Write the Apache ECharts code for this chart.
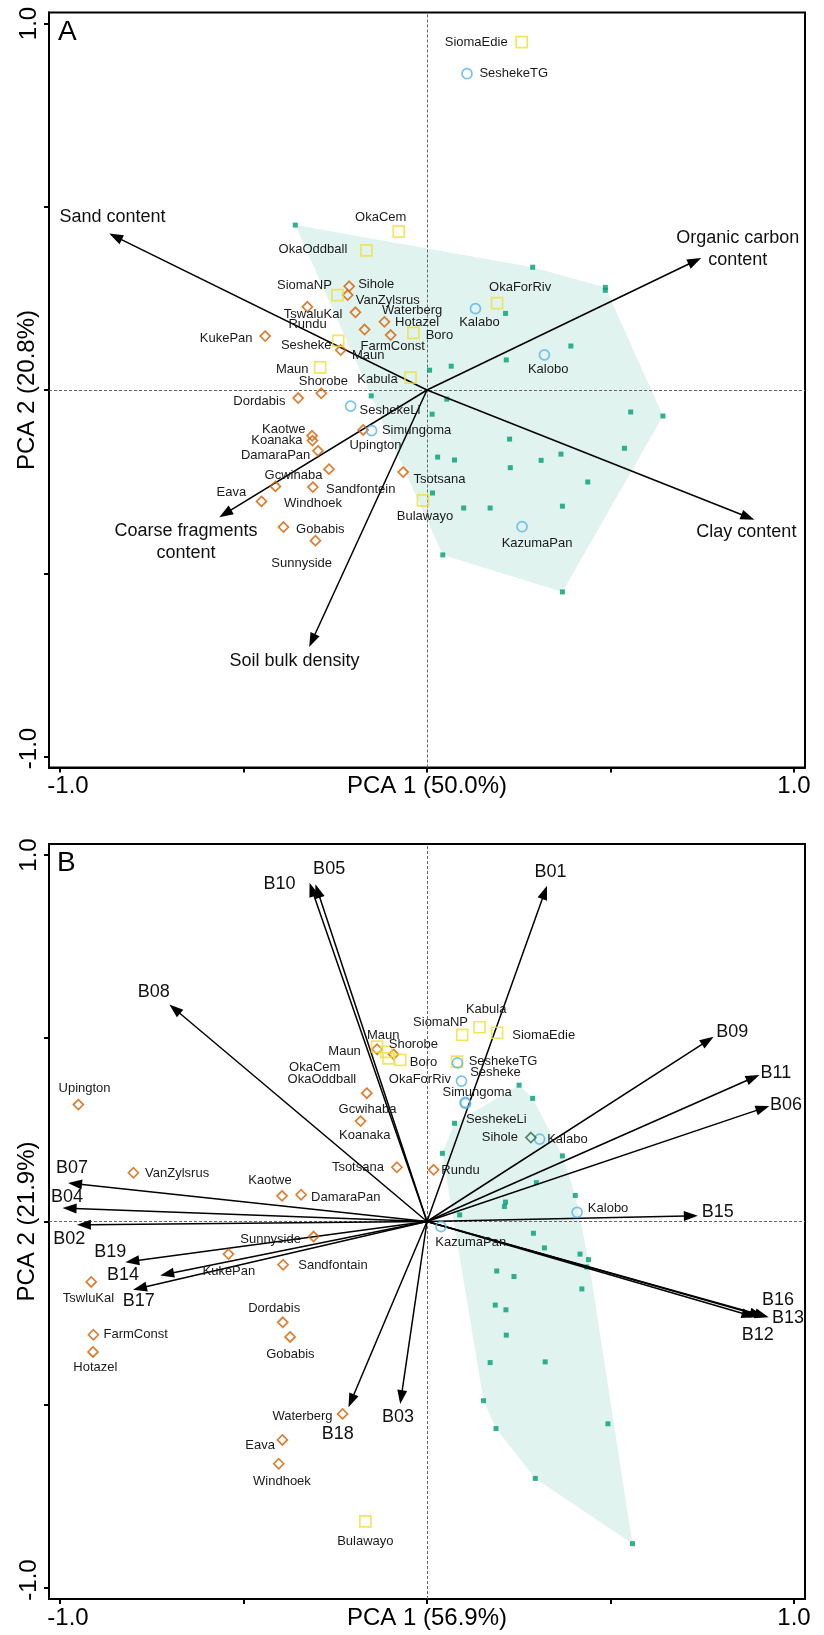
<!DOCTYPE html>
<html>
<head>
<meta charset="utf-8">
<script src="https://cdn.jsdelivr.net/npm/echarts@6/dist/echarts.min.js"></script>
<style>
html,body{margin:0;padding:0;background:#fff;}
#chart{width:824px;height:1635px;}
</style>
</head>
<body>
<div id="chart"></div>
<script>
// ---------------- DATA ----------------
const panelLetters = ['A', 'B'];
const aAxisNames = ['PCA 1 (50.0%)', 'PCA 2 (20.8%)'];
const bAxisNames = ['PCA 1 (56.9%)', 'PCA 2 (21.9%)'];
const tickValues = [-1, -0.5, 0, 0.5, 1];
const tickLabelValues = [-1, 1];
const tickLabelText = ['-1.0', '1.0'];

// Panel A: environmental vectors [label, PCA1, PCA2]
const aArrows = [
  ['Sand content', -0.866, 0.427],
  ['Organic carbon\ncontent', 0.747, 0.360],
  ['Clay content', 0.892, -0.354],
  ['Coarse fragments\ncontent', -0.566, -0.347],
  ['Soil bulk density', -0.321, -0.701]
];
const aOrange = [
  ['Sihole', -0.212, 0.283], ['VanZylsrus', -0.216, 0.259], ['TswaluKal', -0.326, 0.227],
  ['Waterberg', -0.195, 0.212], ['Rundu', -0.170, 0.165], ['Hotazel', -0.116, 0.186],
  ['FarmConst', -0.099, 0.150], ['Maun', -0.235, 0.109], ['KukePan', -0.441, 0.147],
  ['Shorobe', -0.288, -0.009], ['Dordabis', -0.351, -0.022], ['Kaotwe', -0.313, -0.125],
  ['Koanaka', -0.312, -0.138], ['DamaraPan', -0.297, -0.166], ['Upington', -0.174, -0.109],
  ['Gcwihaba', -0.267, -0.216], ['Sandfontein', -0.311, -0.265], ['Eava', -0.413, -0.263],
  ['Windhoek', -0.451, -0.304], ['Gobabis', -0.391, -0.374], ['Sunnyside', -0.304, -0.411],
  ['Tsotsana', -0.065, -0.224]
];
const aYellow = [
  ['SiomaEdie', 0.258, 0.949], ['OkaCem', -0.077, 0.432], ['OkaOddball', -0.165, 0.381],
  ['SiomaNP', -0.244, 0.259], ['OkaForRiv', 0.191, 0.237], ['Boro', -0.037, 0.156],
  ['Sesheke', -0.242, 0.134], ['Maun', -0.291, 0.062], ['Kabula', -0.045, 0.034],
  ['Bulawayo', -0.011, -0.301]
];
const aBlue = [
  ['SeshekeTG', 0.109, 0.863], ['Kalabo', 0.132, 0.222], ['Kalobo', 0.320, 0.096],
  ['SeshekeLi', -0.208, -0.044], ['Simungoma', -0.151, -0.111], ['KazumaPan', 0.259, -0.373]
];
const aGreen = [
  [-0.359, 0.450], [-0.152, -0.016], [0.288, 0.335], [0.486, 0.280], [0.486, 0.272],
  [0.214, 0.209], [0.392, 0.120], [0.216, 0.082], [0.066, 0.065], [0.007, 0.054],
  [0.054, -0.025], [0.014, -0.066], [0.555, -0.060], [0.643, -0.071], [0.225, -0.134],
  [0.538, -0.159], [0.029, -0.183], [0.075, -0.191], [0.365, -0.175], [0.311, -0.192],
  [0.227, -0.212], [0.438, -0.251], [0.015, -0.281], [0.100, -0.322], [0.172, -0.322],
  [0.369, -0.317], [0.043, -0.450], [0.369, -0.551]
];

// Panel B
const bArrows = [
  ['B01', 0.327, 0.916], ['B02', -0.954, -0.009], ['B03', -0.073, -0.498], ['B04', -0.993, 0.037],
  ['B05', -0.304, 0.920], ['B06', 0.933, 0.315], ['B07', -0.978, 0.105], ['B08', -0.702, 0.592],
  ['B09', 0.781, 0.504], ['B10', -0.320, 0.924], ['B11', 0.906, 0.400], ['B12', 0.895, -0.261],
  ['B13', 0.931, -0.261], ['B14', -0.727, -0.147], ['B15', 0.738, 0.016], ['B16', 0.917, -0.259],
  ['B17', -0.801, -0.186], ['B18', -0.214, -0.507], ['B19', -0.822, -0.111]
];
const bOrange = [
  ['Upington', -0.950, 0.319], ['VanZylsrus', -0.800, 0.133], ['Kaotwe', -0.395, 0.070],
  ['DamaraPan', -0.343, 0.073], ['Tsotsana', -0.082, 0.148], ['Koanaka', -0.181, 0.274],
  ['Gcwihaba', -0.164, 0.350], ['Maun', -0.136, 0.470], ['Shorobe', -0.091, 0.456],
  ['Rundu', 0.018, 0.141], ['Sunnyside', -0.309, -0.041], ['KukePan', -0.541, -0.089],
  ['Sandfontain', -0.392, -0.118], ['TswluKal', -0.915, -0.165], ['FarmConst', -0.909, -0.309],
  ['Hotazel', -0.910, -0.356], ['Dordabis', -0.393, -0.275], ['Gobabis', -0.373, -0.315],
  ['Waterberg', -0.230, -0.525], ['Eava', -0.394, -0.596], ['Windhoek', -0.404, -0.661]
];
const bYellow = [
  ['Maun', -0.136, 0.477], ['OkaCem', -0.111, 0.463], ['OkaOddball', -0.105, 0.445],
  ['Boro', -0.073, 0.441], ['OkaForRiv', 0.082, 0.436], ['SiomaNP', 0.096, 0.509],
  ['Kabula', 0.143, 0.530], ['SiomaEdie', 0.191, 0.515], ['Bulawayo', -0.168, -0.818]
];
const bBlue = [
  ['SeshekeTG', 0.083, 0.433], ['Sesheke', 0.094, 0.383], ['Simungoma', 0.104, 0.325],
  ['SeshekeLi', 0.105, 0.322], ['Kalabo', 0.307, 0.225], ['Kalobo', 0.409, 0.025],
  ['KazumaPan', 0.038, -0.014]
];
const bDarkGreen = [['Sihole', 0.283, 0.229]];
const bGreen = [
  [0.251, 0.372], [0.288, 0.336], [0.075, 0.268], [0.369, 0.179], [0.042, 0.186],
  [0.298, 0.106], [0.404, 0.071], [0.214, 0.053], [0.211, 0.041], [0.089, 0.018],
  [0.290, -0.032], [0.320, -0.072], [0.417, -0.089], [0.440, -0.104], [0.435, -0.124],
  [0.190, -0.135], [0.237, -0.150], [0.422, -0.184], [0.186, -0.228], [0.215, -0.241],
  [0.216, -0.310], [0.172, -0.385], [0.322, -0.383], [0.154, -0.489], [0.188, -0.565],
  [0.493, -0.552], [0.295, -0.701], [0.560, -0.879]
];

// ---------------- LAYOUT (label offsets in px, not data) ----------------
const layout = {
  aArrows: [[3.3,-16],[36.7,-9.4],[-8,12.7],[-33.3,24.4],[-14.7,14.4]],
  aOrange: [[27,-2],[40,5],[5.7,7.7],[56.7,-1.6],[-57,-5],[32.7,0.7],[2,11],[27.5,5],[-39,2.3],[2,-11.7],[-38.8,3],[-28.4,-6],[-35.6,0.3],[-42.4,5],[12.3,15.7],[-35.5,6.3],[47.8,2.3],[-44,6],[51.5,2.3],[36.8,2.7],[-13.8,23],[36.3,7.7]],
  aYellow: [[-45.5,0],[-18,-14],[-53.5,-0.6],[-33,-10],[23,-16],[26,2.3],[-32,5],[-28,2],[-33,2],[2,15.7]],
  aBlue: [[46.7,0],[4,13.3],[3.7,14.7],[39.3,4.7],[45,0],[15,16.3]],
  bArrows: [[3.6,-14],[-7.7,14.3],[-2.3,13],[4.4,-11],[13.7,-15],[16.7,-1],[4,-15],[-15.7,-12.6],[18.7,-4.4],[-30,1.3],[16.4,-1.7],[2.3,17.7],[19.4,0.4],[-37.3,0],[20,-3.3],[14.4,-16],[5.6,11],[-10.6,26.3],[-15,-10.6]],
  bOrange: [[6.2,-16],[43.7,0.3],[-12,-15],[44.6,2.7],[-39,0.4],[4.2,14.3],[0.7,15.7],[6.1,-13.6],[19.7,-10],[26.9,1],[-43,2.6],[0.4,17.4],[49.8,1],[-2.7,16.7],[42.2,-0.7],[2.3,15.4],[-8.6,-13.7],[0.3,17],[-40.1,2.7],[-22.3,5],[3.2,17.4]],
  bYellow: [[-32.5,4.3],[-71.5,15.6],[-66.6,21],[23.3,2.7],[-37.2,17.3],[-21.7,-12.3],[6.7,-18],[46.6,3],[0,19.7]],
  bBlue: [[45.5,-1],[34,-8.3],[12,-9.6],[30.7,15.8],[27.7,0.3],[31,-3.7],[29.8,16]],
  bDarkGreen: [[-31,0]]
};

// ---------------- STYLE ----------------
const FONT = "'Liberation Sans', Arial, Helvetica, sans-serif";
const C_ORANGE = '#D55E00', C_YELLOW = '#EFE03A', C_BLUE = '#56B4E9', C_GREEN = '#009E73', C_DKGREEN = '#2E6B47';
const HULL_FILL = 'rgba(0,158,115,0.12)';
const AX_MIN = -1.03, AX_MAX = 1.03;

function tickFmt(v) {
  const s = tickLabelText[tickLabelValues.indexOf(Math.round(v * 100) / 100)] || '';
  return v < 0 ? '{n|' + s + '}' : s;
}

function xAxisCfg(gi, name) {
  return {
    gridIndex: gi, type: 'value', min: AX_MIN, max: AX_MAX, position: 'bottom',
    axisLine: { show: true, onZero: false, lineStyle: { color: '#000', width: 2 } },
    axisTick: { show: true, inside: false, length: 5, customValues: tickValues, lineStyle: { color: '#000', width: 2 } },
    axisLabel: { show: true, customValues: tickLabelValues, formatter: tickFmt, fontSize: 24, color: '#000', margin: 7, fontFamily: FONT,
      rich: { n: { fontSize: 24, color: '#000', padding: [0, 0, 0, 16], fontFamily: FONT } } },
    splitLine: { show: false },
    name: name, nameLocation: 'middle', nameGap: 7, nameMoveOverlap: false,
    nameTextStyle: { fontSize: 24, color: '#000', fontFamily: FONT, verticalAlign: 'top' }
  };
}
function yAxisCfg(gi, name) {
  return {
    gridIndex: gi, type: 'value', min: AX_MIN, max: AX_MAX, position: 'left',
    axisLine: { show: true, onZero: false, lineStyle: { color: '#000', width: 2 } },
    axisTick: { show: true, inside: false, length: 5, customValues: tickValues, lineStyle: { color: '#000', width: 2 } },
    axisLabel: { show: true, customValues: tickLabelValues, formatter: tickFmt, rotate: 90, fontSize: 24, color: '#000', margin: 8, fontFamily: FONT,
      rich: { n: { fontSize: 24, color: '#000', padding: [0, 0, 0, 16], fontFamily: FONT } } },
    splitLine: { show: false },
    name: name, nameLocation: 'middle', nameGap: 10, nameMoveOverlap: false,
    nameTextStyle: { fontSize: 24, color: '#000', fontFamily: FONT }
  };
}

function convexHull(pts) {
  const p = pts.slice().sort((a, b) => a[0] - b[0] || a[1] - b[1]);
  const cross = (o, a, b) => (a[0] - o[0]) * (b[1] - o[1]) - (a[1] - o[1]) * (b[0] - o[0]);
  const lower = [], upper = [];
  for (const q of p) { while (lower.length >= 2 && cross(lower[lower.length - 2], lower[lower.length - 1], q) <= 0) lower.pop(); lower.push(q); }
  for (let i = p.length - 1; i >= 0; i--) { const q = p[i]; while (upper.length >= 2 && cross(upper[upper.length - 2], upper[upper.length - 1], q) <= 0) upper.pop(); upper.push(q); }
  upper.pop(); lower.pop();
  return lower.concat(upper);
}

function hullSeries(gi, green) {
  return {
    type: 'custom', xAxisIndex: gi, yAxisIndex: gi, z: 1, silent: true, animation: false,
    data: green,
    renderItem: function (params, api) {
      if (params.dataIndex !== 0) return null;
      const px = green.map(d => api.coord(d));
      return { type: 'polygon', shape: { points: convexHull(px) }, style: { fill: HULL_FILL } };
    }
  };
}

function arrowSeries(gi, arrows, offs, fontSize) {
  return {
    type: 'custom', xAxisIndex: gi, yAxisIndex: gi, z: 4, silent: true, animation: false,
    data: arrows.map(a => ({ name: a[0], value: [a[1], a[2]] })),
    renderItem: function (params, api) {
      const i = params.dataIndex;
      const o = api.coord([0, 0]);
      const t = api.coord([api.value(0), api.value(1)]);
      const dx = t[0] - o[0], dy = t[1] - o[1];
      const L = Math.hypot(dx, dy), ux = dx / L, uy = dy / L;
      const hl = 14, hw = 5;
      const bx = t[0] - ux * hl, by = t[1] - uy * hl;
      const p1 = [bx - uy * hw, by + ux * hw], p2 = [bx + uy * hw, by - ux * hw];
      const off = offs[i];
      return {
        type: 'group', children: [
          { type: 'line', shape: { x1: o[0], y1: o[1], x2: bx + ux * 2, y2: by + uy * 2 }, style: { stroke: '#000', lineWidth: 1.5 } },
          { type: 'polygon', shape: { points: [t, p1, p2] }, style: { fill: '#000' } },
          { type: 'text', style: { text: arrows[i][0], x: t[0] + off[0], y: t[1] + off[1], fill: '#111', fontSize: fontSize,
              fontFamily: FONT, align: 'center', verticalAlign: 'middle', textAlign: 'center', textVerticalAlign: 'middle', lineHeight: 22 } }
        ]
      };
    }
  };
}

function pointSeries(gi, pts, symbol, size, color) {
  return {
    type: 'scatter', xAxisIndex: gi, yAxisIndex: gi, z: 5, silent: true, animation: false,
    symbol: symbol, symbolSize: size,
    itemStyle: { color: 'rgba(255,255,255,0)', borderColor: color, borderWidth: 1.7 },
    label: { show: false },
    data: pts.map(d => ({ name: d[0], value: [d[1], d[2]] }))
  };
}

function labelSeries(gi, pts, offs) {
  return {
    type: 'custom', xAxisIndex: gi, yAxisIndex: gi, z: 6, silent: true, animation: false,
    data: pts.map(d => ({ name: d[0], value: [d[1], d[2]] })),
    renderItem: function (params, api) {
      const i = params.dataIndex;
      const c = api.coord([api.value(0), api.value(1)]);
      return { type: 'text', style: { text: pts[i][0], x: c[0] + offs[i][0], y: c[1] + offs[i][1], fill: '#1a1a1a', fontSize: 13,
        fontFamily: FONT, align: 'center', verticalAlign: 'middle', textAlign: 'center', textVerticalAlign: 'middle' } };
    }
  };
}

function greenSeries(gi, green) {
  return {
    type: 'scatter', xAxisIndex: gi, yAxisIndex: gi, z: 3, silent: true, animation: false,
    symbol: 'rect', symbolSize: 5, itemStyle: { color: C_GREEN },
    data: green,
    markLine: {
      silent: true, symbol: ['none', 'none'], animation: false, z: 2,
      label: { show: false },
      lineStyle: { color: '#666', type: [3, 2], width: 1 },
      emphasis: { disabled: true },
      data: [{ xAxis: 0 }, { yAxis: 0 }]
    }
  };
}

const chart = echarts.init(document.getElementById('chart'), null, { renderer: 'canvas' });
const option = {
  backgroundColor: '#fff',
  animation: false,
  textStyle: { fontFamily: FONT },
  grid: [
    { left: 49, top: 12.5, width: 756, height: 755, show: true, borderColor: '#000', borderWidth: 2, backgroundColor: 'transparent', containLabel: false, outerBoundsMode: 'none' },
    { left: 49, top: 844, width: 756, height: 755, show: true, borderColor: '#000', borderWidth: 2, backgroundColor: 'transparent', containLabel: false, outerBoundsMode: 'none' }
  ],
  xAxis: [xAxisCfg(0, aAxisNames[0]), xAxisCfg(1, bAxisNames[0])],
  yAxis: [yAxisCfg(0, aAxisNames[1]), yAxisCfg(1, bAxisNames[1])],
  graphic: [
    { type: 'text', left: 58, top: 18, style: { text: panelLetters[0], fontSize: 28, fill: '#000', fontFamily: FONT } },
    { type: 'text', left: 57, top: 849, style: { text: panelLetters[1], fontSize: 28, fill: '#000', fontFamily: FONT } }
  ],
  series: [
    hullSeries(0, aGreen),
    greenSeries(0, aGreen),
    arrowSeries(0, aArrows, layout.aArrows, 18),
    pointSeries(0, aOrange, 'diamond', 10, C_ORANGE),
    pointSeries(0, aYellow, 'rect', 11, C_YELLOW),
    pointSeries(0, aBlue, 'circle', 10, C_BLUE),
    labelSeries(0, aOrange, layout.aOrange),
    labelSeries(0, aYellow, layout.aYellow),
    labelSeries(0, aBlue, layout.aBlue),

    hullSeries(1, bGreen),
    greenSeries(1, bGreen),
    arrowSeries(1, bArrows, layout.bArrows, 18),
    pointSeries(1, bOrange, 'diamond', 10, C_ORANGE),
    pointSeries(1, bYellow, 'rect', 11, C_YELLOW),
    pointSeries(1, bBlue, 'circle', 10, C_BLUE),
    pointSeries(1, bDarkGreen, 'diamond', 10, C_DKGREEN),
    labelSeries(1, bOrange, layout.bOrange),
    labelSeries(1, bYellow, layout.bYellow),
    labelSeries(1, bBlue, layout.bBlue),
    labelSeries(1, bDarkGreen, layout.bDarkGreen)
  ]
};
chart.setOption(option);
</script>
</body>
</html>
